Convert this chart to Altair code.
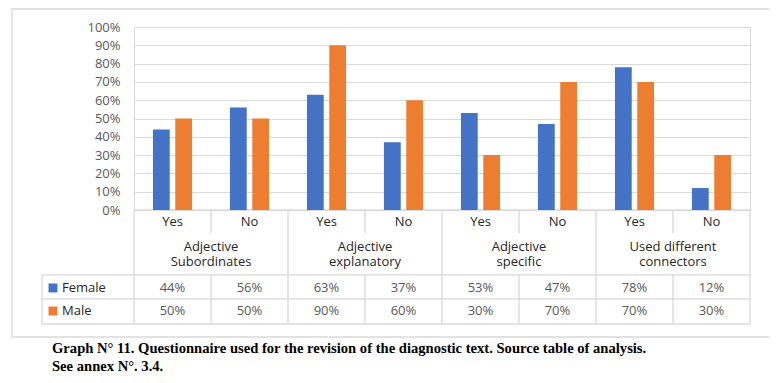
import altair as alt
import pandas as pd

# ---- data ----
answers = ["Yes", "No", "Yes", "No", "Yes", "No", "Yes", "No"]
groups = ["Adjective\nSubordinates", "Adjective\nexplanatory", "Adjective\nspecific", "Used different\nconnectors"]
series = ["Female", "Male"]
female = [0.44, 0.56, 0.63, 0.37, 0.53, 0.47, 0.78, 0.12]
male = [0.50, 0.50, 0.90, 0.60, 0.30, 0.70, 0.70, 0.30]
colors = ["#4472C4", "#ED7D31"]
caption = ["Graph N° 11. Questionnaire used for the revision of the diagnostic text. Source table of analysis.",
           "See annex N°. 3.4."]

# ---- layout constants (column units / fraction units) ----
BAR_W = 0.218
BAR_OFF = {"Female": -0.254, "Male": 0.036}
Y_YESNO = -0.0656
Y_GROUP = -0.202
Y_ROWS = {"Female": -0.426, "Male": -0.552}
Y_B1, Y_B2, Y_B3, Y_B4 = -0.1257, -0.355, -0.486, -0.623
X_LEFT = -1.195
GRID = "#D9D9D9"
FONT = "Open Sans"

values = {"Female": female, "Male": male}
rows = []
for s in series:
    for i, v in enumerate(values[s]):
        rows.append({"col": i, "series": s, "value": v,
                     "x": i + 0.5 + BAR_OFF[s], "x2": i + 0.5 + BAR_OFF[s] + BAR_W,
                     "ty": Y_ROWS[s]})
df = pd.DataFrame(rows)

xscale = alt.Scale(domain=[0, 8], nice=False, zero=False)
yscale = alt.Scale(domain=[0, 1], nice=False)
yaxis = alt.Axis(values=[i / 10 for i in range(11)], format=".0%", title=None,
                 domain=False, ticks=False, labelPadding=14, grid=True,
                 gridColor=GRID, gridWidth=1, labelFont=FONT, labelFontSize=13,
                 labelColor="#595959")


def X(f):
    return alt.X(f, type="quantitative", scale=xscale, axis=None)


def Y(f):
    return alt.Y(f, type="quantitative", scale=yscale, axis=yaxis)


bars = alt.Chart(df).mark_bar(stroke=None).encode(
    x=X("x"), x2="x2", y=Y("value"), y2=alt.datum(0),
    color=alt.Color("series:N", scale=alt.Scale(domain=series, range=colors), legend=None),
)

# table lines
lines = []
for yv in [Y_B2, Y_B3, Y_B4]:
    lines.append({"x": X_LEFT, "x2": 8, "y": yv, "y2": yv})
lines.append({"x": 0, "x2": 8, "y": 0, "y2": 0})
lines.append({"x": X_LEFT, "x2": X_LEFT, "y": Y_B2, "y2": Y_B4})
for i in [0, 2, 4, 6, 8]:
    lines.append({"x": i, "x2": i, "y": 0, "y2": Y_B4})
for i in [1, 3, 5, 7]:
    lines.append({"x": i, "x2": i, "y": 0, "y2": Y_B1})
    lines.append({"x": i, "x2": i, "y": Y_B2, "y2": Y_B4})
rules = alt.Chart(pd.DataFrame(lines)).mark_rule(color=GRID, strokeWidth=1.3).encode(
    x=X("x"), x2="x2", y=Y("y"), y2="y2")

ans_df = pd.DataFrame({"ans": answers, "cx": [i + 0.5 for i in range(8)], "cy": [Y_YESNO] * 8})
ans_text = alt.Chart(ans_df).mark_text(font=FONT, fontSize=13, color="#262626").encode(
    x=X("cx"), y=Y("cy"), text="ans:N")

grp_df = pd.DataFrame({"g": groups, "cx": [2 * i + 1 for i in range(4)], "cy": [Y_GROUP] * 4})
grp_text = alt.Chart(grp_df).mark_text(font=FONT, fontSize=13, color="#262626",
                                       lineBreak="\n", lineHeight=15).encode(
    x=X("cx"), y=Y("cy"), text="g:N")

val_text = alt.Chart(df).transform_calculate(cx="datum.col + 0.5").mark_text(
    font=FONT, fontSize=13, color="#595959").encode(
    x=X("cx"), y=Y("ty"), text=alt.Text("value:Q", format=".0%"))

leg_df = pd.DataFrame({"series": series, "sx": [-1.052, -1.052], "lx": [-0.935, -0.935],
                       "ty": [Y_ROWS[s] for s in series]})
leg_sq = alt.Chart(leg_df).mark_square(size=80, opacity=1, filled=True).encode(
    x=X("sx"), y=Y("ty"),
    color=alt.Color("series:N", scale=alt.Scale(domain=series, range=colors), legend=None))
leg_txt = alt.Chart(leg_df).mark_text(font=FONT, fontSize=13, color="#262626", align="left").encode(
    x=X("lx"), y=Y("ty"), text="series:N")

border = alt.Chart(pd.DataFrame({"a": [0]})).mark_rect(fill=None, stroke=GRID, strokeWidth=1.3).encode(
    x=alt.value(-122), x2=alt.value(636), y=alt.value(-18), y2=alt.value(310))

chart = alt.layer(border, rules, bars, ans_text, grp_text, val_text, leg_sq, leg_txt).properties(
    width=616, height=183,
    autosize=alt.AutoSizeParams(type="none"),
    padding={"left": 126, "top": 19, "right": 19, "bottom": 165},
    title=alt.TitleParams(text=caption, orient="bottom", anchor="start", frame="group",
                          dx=-82, offset=3, baseline="top", font="Liberation Serif",
                          fontSize=14.6, fontWeight="bold", color="#000000", lineHeight=18),
).configure_view(stroke=None).configure(background="white")

chart.save("out.html", embed_options={"renderer": "svg", "actions": False})
